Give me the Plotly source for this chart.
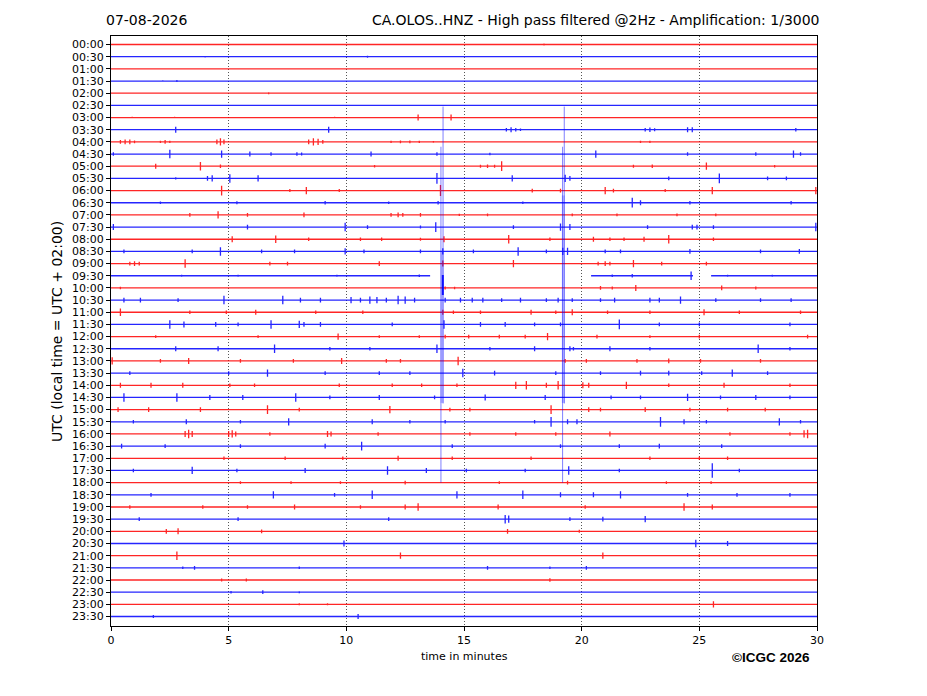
import plotly.graph_objects as go

# helicorder rows, one every 30 minutes
ROW_LABELS = ['%02d:%02d' % (h, m) for h in range(24) for m in (0, 30)]
ROW_COLORS = ['#ff0000', '#0000ff']

# visible events per row: time in minutes, half amplitude in row units
EVENT_T = [
    [18.4],
    [4.0, 10.9, 17.0],
    [],
    [2.2, 2.8],
    [6.7, 13.8],
    [13.8],
    [0.9, 2.7, 9.5, 13.05, 14.45],
    [2.75, 9.25, 16.8, 17.0, 17.2, 17.4, 22.7, 22.9, 23.1, 24.5, 24.7, 29.1],
    [0.4, 0.6, 0.8, 1.0, 2.1, 2.3, 2.5, 4.5, 4.65, 4.8, 8.4, 8.6, 8.8, 9.0, 11.9, 12.3, 12.7, 13.1, 13.7, 22.5, 22.9],
    [0.1, 2.5, 4.7, 5.9, 6.8, 7.9, 8.1, 11.05, 13.85, 16.1, 20.6, 24.5, 27.4, 29.0, 29.3],
    [1.9, 3.8, 4.65, 11.2, 15.7, 16.0, 16.3, 16.6, 22.2, 23.0, 25.3, 28.2],
    [2.75, 4.1, 4.3, 5.05, 6.25, 13.85, 17.05, 19.3, 19.5, 23.7, 25.85, 27.9, 28.7],
    [4.7, 7.6, 8.3, 9.7, 14.0, 17.9, 19.1, 21.0, 21.35, 23.55, 25.55, 29.95],
    [2.1, 5.35, 9.1, 11.8, 13.9, 17.5, 22.15, 22.5, 24.6, 28.9],
    [3.35, 4.55, 5.8, 8.2, 11.9, 12.2, 12.4, 13.15, 14.8, 16.0, 19.6, 21.5, 24.05, 25.7],
    [0.1, 5.8, 9.95, 10.9, 13.15, 13.8, 17.1, 19.1, 19.5, 22.8, 24.7, 24.9, 25.6, 29.95],
    [5.15, 7.0, 8.4, 10.6, 11.5, 13.15, 14.15, 16.9, 18.65, 20.5, 21.2, 21.8, 22.65, 23.7, 25.6],
    [0.55, 3.45, 4.65, 6.4, 7.8, 9.95, 10.75, 13.15, 14.1, 15.4, 17.3, 18.5, 19.2, 19.4, 21.0, 21.65, 24.6, 27.6, 29.25],
    [0.8, 1.0, 1.2, 3.15, 6.75, 7.5, 11.4, 14.1, 17.1, 20.7, 21.0, 21.2, 22.2, 23.4, 25.3],
    [3.0, 5.4, 9.6, 13.1, 21.3, 22.15, 24.65, 26.2, 28.1],
    [0.4, 14.2, 14.6, 20.8, 21.3, 22.3, 25.95, 27.4],
    [0.55, 1.25, 2.85, 4.8, 7.3, 8.05, 8.9, 10.2, 10.6, 11.0, 11.3, 11.7, 12.2, 12.5, 12.9, 14.2, 14.85, 15.35,
     15.8, 16.6, 17.4, 18.5, 19.0, 19.6, 20.8, 21.4, 22.9, 23.3, 24.2, 25.7, 27.6, 28.9],
    [0.4, 3.35, 4.9, 6.15, 8.7, 10.7, 14.1, 14.55, 15.7, 17.85, 18.9, 19.6, 21.1, 22.9, 25.2, 26.7, 29.3],
    [2.5, 3.1, 4.45, 5.4, 6.8, 8.0, 8.2, 8.9, 11.95, 14.15, 15.7, 16.75, 18.0, 19.1, 21.6, 23.3, 25.0, 28.85],
    [1.9, 6.25, 9.65, 11.4, 13.1, 14.2, 15.2, 16.5, 17.6, 18.55, 20.65, 22.9, 25.0, 29.6],
    [2.75, 4.55, 6.95, 9.3, 11.0, 13.85, 16.1, 18.0, 19.5, 19.65, 21.2, 22.9, 27.5, 28.85],
    [0.05, 2.1, 3.3, 5.5, 7.75, 9.8, 11.7, 12.3, 14.75, 19.3, 20.2, 22.35, 23.7, 25.05, 27.6],
    [0.8, 5.0, 6.65, 9.1, 11.4, 12.7, 14.95, 16.3, 18.9, 20.8, 22.5, 23.7, 25.1, 26.4, 27.9],
    [0.4, 1.7, 3.05, 5.05, 6.1, 9.7, 11.95, 13.2, 14.7, 17.2, 17.65, 18.5, 19.0, 20.05, 20.3, 21.9, 23.7, 26.05, 28.85],
    [0.55, 2.8, 4.2, 5.6, 7.85, 9.3, 11.4, 13.75, 15.9, 18.45, 21.25, 22.5, 24.5, 25.9, 27.4, 28.85],
    [0.3, 1.6, 3.8, 6.65, 8.0, 11.85, 14.4, 15.25, 18.7, 20.3, 20.8, 22.7, 24.6, 26.2, 27.8],
    [0.95, 3.2, 5.5, 7.55, 11.1, 12.7, 14.2, 18.0, 18.7, 19.4, 19.8, 23.35, 24.35, 25.3, 28.4, 29.3],
    [3.15, 3.3, 3.45, 5.0, 5.15, 5.3, 6.75, 9.2, 9.35, 11.35, 15.25, 17.2, 18.9, 21.2, 26.3, 28.85, 29.45, 29.6],
    [0.45, 2.3, 5.5, 9.1, 10.65, 14.5, 19.1, 21.6, 23.3, 25.95],
    [4.8, 7.4, 9.85, 12.2, 14.5, 17.85, 22.9, 25.0, 26.2],
    [0.95, 3.45, 5.35, 8.25, 11.75, 13.4, 15.1, 17.6, 19.45, 21.6, 25.55, 26.7],
    [5.5, 7.65, 9.75, 12.5, 16.5, 19.4, 23.6, 25.5],
    [1.7, 6.9, 9.5, 11.1, 14.7, 17.5, 19.1, 20.5, 21.65, 24.5, 26.6, 28.85],
    [0.8, 3.9, 5.8, 7.8, 10.6, 12.5, 13.05, 16.45, 20.15, 24.35, 25.55],
    [1.2, 5.4, 11.8, 16.75, 16.9, 19.5, 20.9, 22.7],
    [2.35, 2.85, 6.4, 16.85, 19.9],
    [9.9, 24.85, 26.2],
    [2.8, 12.3, 20.9, 25.0],
    [3.05, 3.55, 8.0, 16.0, 18.65, 20.2],
    [4.7, 5.75, 18.65],
    [5.1, 6.45, 8.0],
    [8.0, 9.2, 25.6],
    [1.8, 10.5],
]

EVENT_A = [
    [0.08],
    [0.06, 0.08, 0.05],
    [],
    [0.06, 0.08],
    [0.08, 0.05],
    [0.06],
    [0.06, 0.06, 0.06, 0.25, 0.25],
    [0.25, 0.25, 0.15, 0.2, 0.15, 0.1, 0.15, 0.18, 0.12, 0.2, 0.2, 0.15],
    [0.15, 0.2, 0.2, 0.12, 0.1, 0.15, 0.1, 0.2, 0.3, 0.2, 0.2, 0.3, 0.25, 0.15, 0.1, 0.12, 0.12, 0.1, 0.08, 0.1, 0.1],
    [0.15, 0.35, 0.3, 0.2, 0.15, 0.15, 0.12, 0.2, 0.15, 0.1, 0.3, 0.15, 0.15, 0.3, 0.15],
    [0.2, 0.35, 0.15, 0.1, 0.12, 0.15, 0.12, 0.4, 0.12, 0.15, 0.3, 0.1],
    [0.1, 0.2, 0.25, 0.35, 0.25, 0.45, 0.25, 0.3, 0.2, 0.15, 0.4, 0.15, 0.15],
    [0.4, 0.12, 0.3, 0.12, 0.45, 0.15, 0.15, 0.3, 0.15, 0.12, 0.3, 0.3],
    [0.1, 0.12, 0.15, 0.1, 0.15, 0.1, 0.4, 0.2, 0.15, 0.15],
    [0.15, 0.3, 0.15, 0.2, 0.15, 0.2, 0.15, 0.15, 0.1, 0.12, 0.12, 0.12, 0.12, 0.12],
    [0.25, 0.2, 0.35, 0.15, 0.12, 0.4, 0.15, 0.3, 0.25, 0.15, 0.2, 0.2, 0.15, 0.35],
    [0.25, 0.3, 0.15, 0.15, 0.15, 0.12, 0.25, 0.35, 0.15, 0.2, 0.15, 0.15, 0.2, 0.35, 0.15],
    [0.15, 0.15, 0.35, 0.15, 0.15, 0.25, 0.15, 0.15, 0.25, 0.15, 0.35, 0.15, 0.3, 0.3, 0.15, 0.15, 0.2, 0.15, 0.2],
    [0.15, 0.2, 0.15, 0.35, 0.15, 0.15, 0.2, 0.25, 0.3, 0.15, 0.2, 0.15, 0.3, 0.15, 0.15],
    [0.08, 0.08, 0.08, 0.1, 0.1, 0.15, 0.35, 0.08, 0.08],
    [0.1, 0.12, 0.1, 0.15, 0.12, 0.25, 0.2, 0.12],
    [0.2, 0.2, 0.15, 0.35, 0.35, 0.2, 0.2, 0.25, 0.2, 0.3, 0.25, 0.2, 0.35, 0.3, 0.2, 0.2, 0.2, 0.2,
     0.2, 0.15, 0.2, 0.15, 0.2, 0.15, 0.15, 0.2, 0.2, 0.2, 0.3, 0.15, 0.15, 0.15],
    [0.3, 0.15, 0.15, 0.2, 0.15, 0.15, 0.2, 0.15, 0.15, 0.2, 0.15, 0.25, 0.15, 0.15, 0.25, 0.15, 0.15],
    [0.35, 0.25, 0.2, 0.15, 0.35, 0.3, 0.2, 0.2, 0.15, 0.35, 0.2, 0.2, 0.15, 0.15, 0.4, 0.15, 0.15, 0.15],
    [0.12, 0.12, 0.25, 0.12, 0.12, 0.15, 0.15, 0.15, 0.15, 0.3, 0.15, 0.12, 0.15, 0.15],
    [0.2, 0.2, 0.35, 0.15, 0.15, 0.35, 0.15, 0.2, 0.2, 0.15, 0.2, 0.15, 0.35, 0.15],
    [0.3, 0.15, 0.25, 0.15, 0.15, 0.25, 0.15, 0.15, 0.35, 0.15, 0.15, 0.15, 0.2, 0.15, 0.15],
    [0.15, 0.15, 0.3, 0.15, 0.15, 0.15, 0.35, 0.2, 0.15, 0.15, 0.2, 0.2, 0.15, 0.3, 0.15],
    [0.2, 0.2, 0.2, 0.15, 0.15, 0.15, 0.15, 0.15, 0.15, 0.3, 0.35, 0.2, 0.35, 0.25, 0.2, 0.3, 0.15, 0.2, 0.15],
    [0.35, 0.35, 0.2, 0.2, 0.35, 0.15, 0.2, 0.15, 0.25, 0.2, 0.15, 0.15, 0.3, 0.15, 0.2, 0.15],
    [0.2, 0.2, 0.2, 0.35, 0.15, 0.3, 0.15, 0.15, 0.35, 0.2, 0.15, 0.2, 0.15, 0.15, 0.15],
    [0.15, 0.2, 0.15, 0.3, 0.2, 0.15, 0.15, 0.15, 0.4, 0.2, 0.2, 0.4, 0.2, 0.15, 0.3, 0.15],
    [0.25, 0.35, 0.25, 0.25, 0.3, 0.2, 0.15, 0.25, 0.2, 0.15, 0.15, 0.15, 0.15, 0.2, 0.15, 0.15, 0.3, 0.35],
    [0.2, 0.15, 0.15, 0.2, 0.35, 0.15, 0.15, 0.15, 0.2, 0.15],
    [0.15, 0.15, 0.15, 0.2, 0.15, 0.15, 0.15, 0.15, 0.15],
    [0.15, 0.3, 0.15, 0.2, 0.35, 0.2, 0.15, 0.15, 0.35, 0.15, 0.6, 0.15],
    [0.12, 0.12, 0.12, 0.15, 0.12, 0.15, 0.12, 0.12],
    [0.15, 0.3, 0.15, 0.35, 0.3, 0.35, 0.2, 0.2, 0.3, 0.15, 0.15, 0.15],
    [0.15, 0.15, 0.15, 0.2, 0.15, 0.2, 0.3, 0.2, 0.15, 0.3, 0.2],
    [0.15, 0.15, 0.15, 0.35, 0.3, 0.15, 0.2, 0.25],
    [0.2, 0.25, 0.15, 0.2, 0.12],
    [0.25, 0.3, 0.2],
    [0.35, 0.25, 0.25, 0.12],
    [0.1, 0.15, 0.1, 0.15, 0.1, 0.15],
    [0.12, 0.12, 0.15],
    [0.1, 0.15, 0.08],
    [0.08, 0.08, 0.25],
    [0.12, 0.2],
]

# data gaps (start, end) in minutes, 09:30 row
GAP_ROW = 19
GAP_START = [13.56, 24.73]
GAP_END = [20.4, 25.5]

# large event on the 09:30 row: time, top and bottom excursion in row units
BIG_T = [14.02, 14.11, 19.19, 19.26]
BIG_TOP = [-10.6, -13.9, -10.6, -13.9]
BIG_BOT = [17.0, 10.5, 17.0, 10.5]
BAND_T = [14.07, 19.22]
BAND_TOP = [-1.95, -6.6]
BAND_BOT = [10.45, 10.45]
CORE_T = [14.1]
CORE_TOP = [-0.06]
CORE_BOT = [1.58]


def segments(ts, tops, bots):
    xs, ys = [], []
    for t, top, bot in zip(ts, tops, bots):
        xs += [t, t, None]
        ys += [GAP_ROW + top, GAP_ROW + bot, None]
    return xs, ys


fig = go.Figure()

for i, (ts, amps) in enumerate(zip(EVENT_T, EVENT_A)):
    xs, ys = [0.0], [i]
    cuts = []
    if i == GAP_ROW:
        cuts = list(zip(GAP_START, GAP_END))
    pts = sorted([(t, 'e', a) for t, a in zip(ts, amps)] +
                 [(s, 'g', e) for s, e in cuts])
    for t, kind, val in pts:
        if kind == 'e':
            xs += [t, t, t, t]
            ys += [i, i - val, i + val, i]
        else:
            xs += [t, None, val]
            ys += [i, None, i]
    xs.append(30.0)
    ys.append(i)
    fig.add_trace(go.Scatter(
        x=xs, y=ys, mode='lines',
        line=dict(color=ROW_COLORS[i % 2], width=1.3),
        opacity=0.85, hoverinfo='skip', showlegend=False,
    ))

bx, by = segments(BIG_T, BIG_TOP, BIG_BOT)
fig.add_trace(go.Scatter(x=bx, y=by, mode='lines',
                         line=dict(color='rgba(0,0,255,0.5)', width=1),
                         hoverinfo='skip', showlegend=False))
nx, ny = segments(BAND_T, BAND_TOP, BAND_BOT)
fig.add_trace(go.Scatter(x=nx, y=ny, mode='lines',
                         line=dict(color='rgba(0,0,255,0.22)', width=3),
                         hoverinfo='skip', showlegend=False))
cx, cy = segments(CORE_T, CORE_TOP, CORE_BOT)
fig.add_trace(go.Scatter(x=cx, y=cy, mode='lines',
                         line=dict(color='rgba(0,0,255,0.9)', width=2),
                         hoverinfo='skip', showlegend=False))

font = 'DejaVu Sans'
fig.update_layout(
    width=919, height=688,
    margin=dict(l=103, r=110, t=28, b=70),
    plot_bgcolor='white', paper_bgcolor='white',
    font=dict(family=font, size=11, color='black'),
    xaxis=dict(range=[0, 30], tickvals=[0, 5, 10, 15, 20, 25, 30],
               showgrid=True, gridcolor='#555', griddash='1px,2px', gridwidth=0.8,
               zeroline=False, showline=True, linecolor='black', linewidth=1.1,
               mirror=True, ticks='outside', ticklen=4, tickcolor='black'),
    yaxis=dict(range=[47.78, -0.7], tickvals=list(range(48)), ticktext=ROW_LABELS,
               showgrid=False, zeroline=False, showline=True, linecolor='black',
               linewidth=1.1, mirror=True, ticks='outside', ticklen=4, tickcolor='black'),
    annotations=[
        dict(text='07-08-2026', xref='paper', yref='paper', x=-0.01, y=1.027,
             xanchor='left', yanchor='middle', showarrow=False, font=dict(size=14)),
        dict(text='CA.OLOS..HNZ - High pass filtered @2Hz - Amplification: 1/3000',
             xref='paper', yref='paper', x=1.0075, y=1.027, xanchor='right',
             yanchor='middle', showarrow=False, font=dict(size=14)),
        dict(text='UTC (local time = UTC + 02:00)', xref='paper', yref='paper',
             x=-0.0765, y=0.5, textangle=-90, xanchor='center', yanchor='middle',
             showarrow=False, font=dict(size=14)),
        dict(text='time in minutes', xref='paper', yref='paper', x=0.5, y=-0.0525,
             xanchor='center', yanchor='middle', showarrow=False, font=dict(size=11)),
        dict(text='<b>©ICGC 2026</b>', xref='paper', yref='paper', x=0.935, y=-0.054,
             xanchor='center', yanchor='middle', showarrow=False,
             font=dict(family='Liberation Sans', size=13.5)),
    ],
)

fig.write_html('out.html')
